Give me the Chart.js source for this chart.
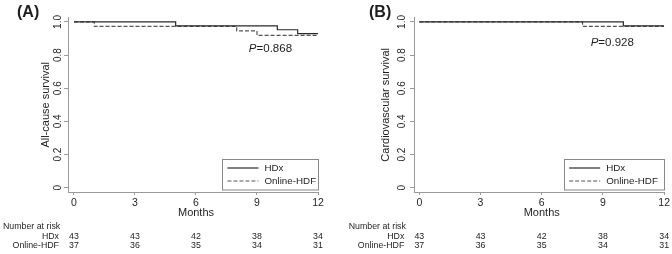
<!DOCTYPE html>
<html>
<head>
<meta charset="utf-8">
<script src="https://cdn.jsdelivr.net/npm/chart.js@4/dist/chart.umd.min.js"></script>
<style>
  html, body { margin: 0; padding: 0; background: #fff; }
  #wrap { position: relative; width: 672px; height: 254px; overflow: hidden; }
  canvas { position: absolute; top: 0; }
</style>
</head>
<body>
<div id="wrap">
  <canvas id="cA" width="336" height="254" style="left:0"></canvas>
  <canvas id="cB" width="336" height="254" style="left:336px"></canvas>
</div>
<script>
// ---- data ----
const monthTicks = [0, 3, 6, 9, 12];
const survTicks = [0, 0.2, 0.4, 0.6, 0.8, 1.0];
const survTickLabels = ['0', '0.2', '0.4', '0.6', '0.8', '1.0'];
const seriesNames = ['HDx', 'Online-HDF'];

// Panel A: all-cause survival
const aHDxTimes = [0, 5, 10, 11, 12];
const aHDxSurv  = [1.0, 0.977, 0.953, 0.930, 0.930];
const aHDFTimes = [0, 1, 8, 9, 12];
const aHDFSurv  = [1.0, 0.973, 0.946, 0.919, 0.919];
// Panel B: cardiovascular survival
const bHDxTimes = [0, 10, 12];
const bHDxSurv  = [1.0, 0.977, 0.977];
const bHDFTimes = [0, 8, 12];
const bHDFSurv  = [1.0, 0.973, 0.973];

const riskHDx = [43, 43, 42, 38, 34];
const riskHDF = [37, 36, 35, 34, 31];

const FONT = '"Liberation Sans", Arial, sans-serif';
const TXT = '#1e1e1e';
const AXIS = '#9a9a9a';

function pts(t, s) { return t.map((v, i) => ({ x: v, y: s[i] })); }

function makePanel(canvasId, cfg) {
  const panelPlugin = {
    id: 'panelDeco',
    afterDraw(chart) {
      const ctx = chart.ctx;
      const xs = chart.scales.x, ys = chart.scales.y;
      ctx.save();
      ctx.fillStyle = TXT;
      // panel label
      ctx.font = 'bold 16px ' + FONT;
      ctx.textAlign = 'left'; ctx.textBaseline = 'middle';
      ctx.fillText(cfg.label, cfg.labelX, 13);
      // y tick labels (rotated)
      ctx.font = '10px ' + FONT;
      ctx.textAlign = 'center'; ctx.textBaseline = 'middle';
      survTicks.forEach((v, i) => {
        const y = ys.getPixelForValue(v);
        ctx.save();
        ctx.translate(cfg.yLabX, y);
        ctx.rotate(-Math.PI / 2);
        ctx.fillText(survTickLabels[i], 0, 0);
        ctx.restore();
      });
      // y title
      ctx.font = '11px ' + FONT;
      ctx.save();
      ctx.translate(cfg.yTitleX, (ys.getPixelForValue(0) + ys.getPixelForValue(1)) / 2);
      ctx.rotate(-Math.PI / 2);
      ctx.fillText(cfg.yTitle, 0, 0);
      ctx.restore();
      // x title
      ctx.font = '11px ' + FONT;
      ctx.fillText('Months', xs.getPixelForValue(6), 213);
      // P value
      ctx.textAlign = 'left';
      ctx.font = 'italic 11.5px ' + FONT;
      const px = xs.getPixelForValue(cfg.pAt[0]);
      const py = ys.getPixelForValue(cfg.pAt[1]);
      ctx.fillText('P', px, py);
      const pw = ctx.measureText('P').width;
      ctx.font = '11.5px ' + FONT;
      ctx.fillText('=' + cfg.pText, px + pw, py);
      // legend
      const lx0 = xs.getPixelForValue(cfg.legX0), lx1 = xs.getPixelForValue(12);
      const ly0 = 159, ly1 = 189.5;
      ctx.strokeStyle = '#888'; ctx.lineWidth = 1;
      ctx.strokeRect(Math.round(lx0) + 0.5, ly0 + 0.5, Math.round(lx1 - lx0), ly1 - ly0);
      const dsets = chart.data.datasets;
      const rows = [168, 181];
      dsets.forEach((d, i) => {
        ctx.beginPath();
        ctx.strokeStyle = d.borderColor;
        ctx.lineWidth = d.borderWidth;
        ctx.setLineDash(d.borderDash || []);
        ctx.moveTo(lx0 + 5, rows[i]);
        ctx.lineTo(lx0 + 36, rows[i]);
        ctx.stroke();
        ctx.setLineDash([]);
        ctx.fillStyle = TXT;
        ctx.font = '9.8px ' + FONT;
        ctx.textAlign = 'left';
        ctx.fillText(d.label, lx0 + 42, rows[i] + 0.5);
      });
      // number at risk table
      ctx.fillStyle = TXT;
      ctx.font = '8.8px ' + FONT;
      ctx.textAlign = 'left';
      ctx.fillText('Number at risk', cfg.riskTitleX, 226.5);
      ctx.textAlign = 'right';
      const nameX = xs.getPixelForValue(0) - 15;
      ctx.fillText(seriesNames[0], nameX, 236.5);
      ctx.fillText(seriesNames[1], nameX, 245.5);
      ctx.textAlign = 'center';
      monthTicks.forEach((m, i) => {
        const x = xs.getPixelForValue(m);
        ctx.fillText(String(riskHDx[i]), x, 236.5);
        ctx.fillText(String(riskHDF[i]), x, 245.5);
      });
      ctx.restore();
    }
  };

  return new Chart(document.getElementById(canvasId), {
    type: 'line',
    data: {
      datasets: [
        { label: seriesNames[0], data: pts(cfg.hdxT, cfg.hdxS), stepped: 'before',
          borderColor: '#2a2a2a', borderWidth: 1.2, pointRadius: 0, fill: false },
        { label: seriesNames[1], data: pts(cfg.hdfT, cfg.hdfS), stepped: 'before',
          borderColor: '#555', borderWidth: 1.2, borderDash: [4, 2], pointRadius: 0, fill: false }
      ]
    },
    options: {
      responsive: false,
      animation: false,
      events: [],
      layout: { padding: { left: 0, top: 17, right: cfg.padRight, bottom: 0 } },
      plugins: { legend: { display: false }, tooltip: { enabled: false } },
      scales: {
        x: {
          type: 'linear', min: cfg.xMin, max: 12,
          afterBuildTicks(s) { s.ticks = monthTicks.map(v => ({ value: v })); },
          afterFit(s) { s.height = 62; },
          grid: { display: true, drawOnChartArea: false, drawTicks: true, tickLength: 3, color: AXIS },
          border: { display: true, color: AXIS, width: 1 },
          ticks: { color: TXT, font: { family: FONT, size: 10.5 }, padding: 2, maxRotation: 0,
                   callback: v => String(v) }
        },
        y: {
          type: 'linear', min: -0.026, max: 1.030,
          afterBuildTicks(s) { s.ticks = survTicks.map(v => ({ value: v })); },
          afterFit(s) { s.width = cfg.yWidth; },
          grid: { display: true, drawOnChartArea: false, drawTicks: true, tickLength: 4, color: AXIS },
          border: { display: true, color: AXIS, width: 1 },
          ticks: { display: false }
        }
      }
    },
    plugins: [panelPlugin]
  });
}

makePanel('cA', {
  label: '(A)', labelX: 17, yTitle: 'All-cause survival', yTitleX: 46, yLabX: 58.5,
  xMin: -0.295, yWidth: 68, padRight: 18,
  hdxT: aHDxTimes, hdxS: aHDxSurv, hdfT: aHDFTimes, hdfS: aHDFSurv,
  pText: '0.868', pAt: [8.6, 0.84], legX0: 7.3, riskTitleX: 3
});
makePanel('cB', {
  label: '(B)', labelX: 33, yTitle: 'Cardiovascular survival', yTitleX: 50, yLabX: 66.5,
  xMin: -0.26, yWidth: 78, padRight: 7.7,
  hdxT: bHDxTimes, hdxS: bHDxSurv, hdfT: bHDFTimes, hdfS: bHDFSurv,
  pText: '0.928', pAt: [8.4, 0.875], legX0: 7.1, riskTitleX: 12.7
});
</script>
</body>
</html>
